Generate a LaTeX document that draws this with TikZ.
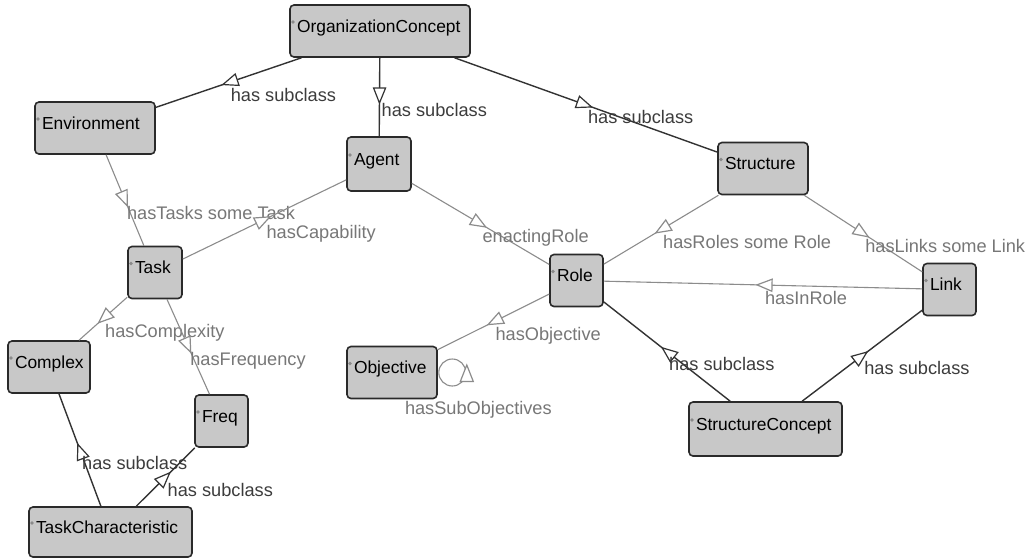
\documentclass[tikz,border=0pt]{standalone}
\usepackage{fontspec}
\setmainfont{Liberation Sans}
\usetikzlibrary{decorations.markings,calc}

\definecolor{boxfill}{HTML}{C8C8C8}
\definecolor{boxline}{HTML}{2A2A2A}
\definecolor{dotgray}{HTML}{8A8A8A}
\definecolor{subline}{HTML}{333333}
\definecolor{subtext}{HTML}{3C3C3C}
\definecolor{propline}{HTML}{8C8C8C}
\definecolor{proptext}{HTML}{777777}

\begin{document}
\begin{tikzpicture}[x=1pt,y=-1pt,
  font=\fontsize{17.4}{20}\selectfont,
  % class boxes: grey rounded rectangles, text set flush left with a small marker dot
  cls/.style={draw=boxline, fill=boxfill, line width=1.6pt, rounded corners=4pt,
    minimum height=52pt, inner xsep=7pt, inner ysep=0pt,
    text width=#1, align=left, text height=9pt, text depth=7pt,
    path picture={\fill[dotgray] ([xshift=3pt,yshift=9pt]path picture bounding box.west) circle (1.8pt);}},
  % open triangle placed halfway along a connector
  midtri/.style={postaction=decorate, decoration={markings,
    mark=at position 0.5 with {\draw[draw=#1, line width=1.2pt, fill=white, line join=miter]
      (6pt,0pt) -- (-9pt,6pt) -- (-9pt,-6pt) -- cycle;}}},
  subedge/.style={draw=subline, line width=1.4pt, midtri=subline},
  propedge/.style={draw=propline, line width=1.1pt, midtri=propline},
  elabel/.style={inner sep=0pt, anchor=base west, font=\fontsize{18.2}{20}\selectfont},
  onedge/.style={elabel, pos=0.5, xshift=1.5pt, yshift=-19pt},
  sublabel/.style={onedge, text=subtext},
  proplabel/.style={onedge, text=proptext}
]
\fill[white] (0,0) rectangle (1036,558);
\useasboundingbox (0,0) rectangle (1036,558);

% classes
\node[cls=166pt] (oc) at (380,31) {OrganizationConcept};
\node[cls=106pt] (env) at (95,128) {Environment};
\node[cls=50pt, minimum height=54pt] (agent) at (379,164) {Agent};
\node[cls=76pt] (struct) at (763,168.5) {Structure};
\node[cls=40pt] (task) at (155,272.5) {Task};
\node[cls=39pt] (role) at (576.5,280.5) {Role};
\node[cls=39pt] (link) at (949.5,289.5) {Link};
\node[cls=68pt] (complex) at (49,367) {Complex};
\node[cls=76pt] (obj) at (392,372.5) {Objective};
\node[cls=39pt] (freq) at (221.5,421) {Freq};
\node[cls=139pt, minimum height=54pt] (sc) at (765.5,429) {StructureConcept};
\node[cls=149pt, minimum height=50pt] (tc) at (110.5,532) {TaskCharacteristic};

% subclass relations
\draw[subedge] (oc) -- (env) node[sublabel] {has subclass};
\draw[subedge] (oc) -- (agent) node[sublabel] {has subclass};
\draw[subedge] (oc) -- (struct) node[sublabel] {has subclass};
\draw[subedge] (sc) -- (role) node[sublabel] {has subclass};
\draw[subedge] (sc) -- (link) node[sublabel] {has subclass};
\draw[subedge] (tc) -- (complex) node[sublabel] {has subclass};
\draw[subedge] (tc) -- (freq) node[sublabel] {has subclass};

% object properties
\draw[propedge] (env) -- (task) node[proplabel] {hasTasks some Task};
\draw[propedge] (task) -- (agent) node[proplabel] {hasCapability};
\draw[propedge] (agent) -- (role) node[proplabel] {enactingRole};
\draw[propedge] (struct) -- (role) node[proplabel] {hasRoles some Role};
\draw[propedge] (struct) -- (link) node[proplabel] {hasLinks some Link};
\draw[propedge] (link) -- (role) node[proplabel] {hasInRole};
\draw[propedge] (role) -- (obj) node[proplabel] {hasObjective};
\draw[propedge] (task) -- (complex) node[proplabel] {hasComplexity};
\draw[propedge] (task) -- (freq) node[proplabel] {hasFrequency};

% self loop on Objective
\draw[draw=propline, line width=1.1pt] ($(obj.east)+(14.5,0)$) circle[radius=13.5pt];
\draw[draw=propline, line width=1.2pt, fill=white, line join=miter]
  ($(obj.east)+(29,-7.5)$) -- ($(obj.east)+(22.5,9)$) -- ($(obj.east)+(35.5,9)$) -- cycle;
\node[elabel, text=proptext] (subobj) at ($(obj.east)+(-33,41.5)$) {hasSubObjectives};
\end{tikzpicture}
\end{document}
